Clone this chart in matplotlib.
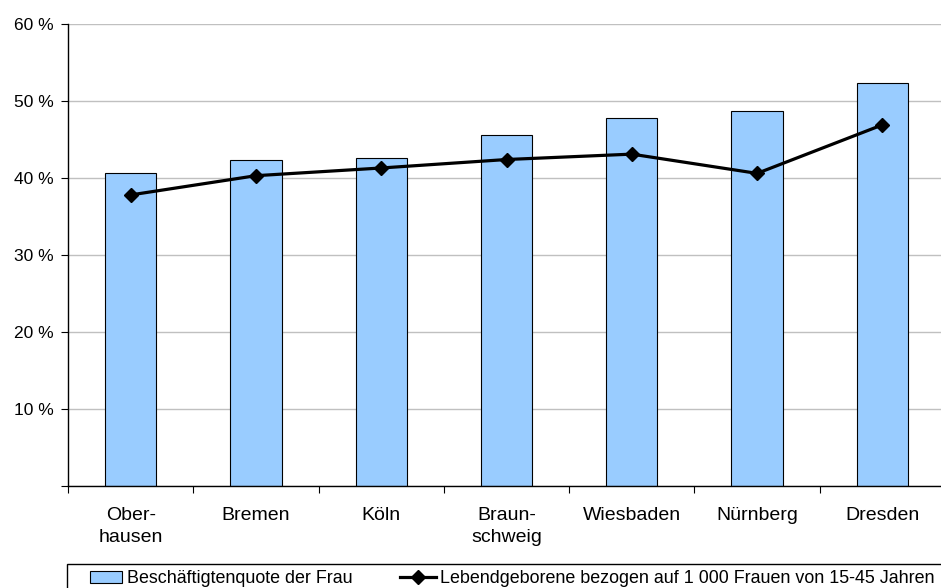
import numpy as np
import matplotlib.pyplot as plt
from matplotlib.patches import Rectangle, Patch
from matplotlib.lines import Line2D
from matplotlib.ticker import FixedLocator, FuncFormatter

plt.rcParams['font.family'] = ['Liberation Sans', 'DejaVu Sans']

# Cities and the two series
cities = ['Ober-\nhausen', 'Bremen', 'Köln', 'Braun-\nschweig', 'Wiesbaden', 'Nürnberg', 'Dresden']
beschaeftigtenquote = [40.7, 42.3, 42.6, 45.6, 47.8, 48.7, 52.3]
lebendgeborene = [37.8, 40.3, 41.3, 42.4, 43.1, 40.6, 46.9]

label_bar = 'Beschäftigtenquote der Frau'
label_line = 'Lebendgeborene bezogen auf 1 000 Frauen von 15-45 Jahren'

W, H = 941, 588
fig = plt.figure(figsize=(W / 100, H / 100), dpi=100)
ax = fig.add_axes([68 / W, 1 - 486 / H, 877 / W, 462 / H])

x = np.arange(len(cities))
ax.bar(x, beschaeftigtenquote, width=0.41, color='#99CCFF', edgecolor='black',
       linewidth=0.8, zorder=2)
ax.plot(x, lebendgeborene, color='black', linewidth=2.3, marker='D', markersize=7.5,
        zorder=3)

ax.set_xlim(-0.5, len(cities) - 0.5)
ax.set_ylim(0, 60)
ax.set_yticks(np.arange(0, 61, 10))
ax.yaxis.set_major_formatter(FuncFormatter(lambda v, p: '' if v == 0 else f'{v:.0f} %'))
ax.yaxis.grid(True, color='#C0C0C0', linewidth=1, zorder=0)
ax.set_axisbelow(True)

# category labels centred, tick marks between categories
ax.set_xticks(x)
ax.set_xticklabels(cities, fontsize=14, linespacing=1.4)
ax.tick_params(axis='x', which='major', length=0, pad=15)
ax.xaxis.set_minor_locator(FixedLocator(np.arange(-0.5, len(cities), 1)))
ax.tick_params(axis='x', which='minor', length=5, width=0.8)
ax.tick_params(axis='y', length=5, width=0.8, labelsize=12.5, pad=5.5)

for side in ['top', 'right']:
    ax.spines[side].set_visible(False)
for side in ['left', 'bottom']:
    ax.spines[side].set_linewidth(1)

# legend frame along the bottom edge
fig.patches.append(Rectangle((67 / W, -0.05), 1.0, (H - 564) / H + 0.05,
                             transform=fig.transFigure, fill=False,
                             edgecolor='black', linewidth=1))

bar_handle = Patch(facecolor='#99CCFF', edgecolor='black', linewidth=0.8)
line_handle = Line2D([], [], color='black', linewidth=2.3, marker='D', markersize=7.5)

leg_kw = dict(loc='center left', frameon=False, fontsize=12.9, borderpad=0,
              borderaxespad=0, handletextpad=0.25, handleheight=0.65)
leg1 = fig.legend([bar_handle], [label_bar], bbox_to_anchor=(90 / W, 1 - 578.5 / H),
                  handlelength=1.8, **leg_kw)
leg2 = fig.legend([line_handle], [label_line], bbox_to_anchor=(400 / W, 1 - 578.5 / H),
                  handlelength=2.0, **leg_kw)

fig.savefig('out.png', dpi=100)
